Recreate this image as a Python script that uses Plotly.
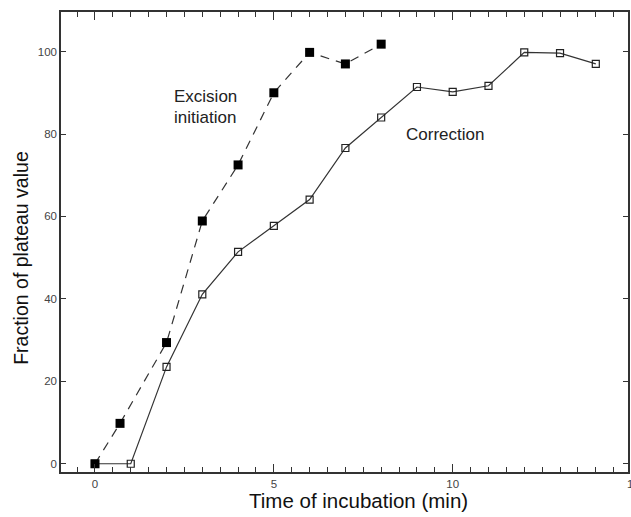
import plotly.graph_objects as go

exc_x = [0, 0.7, 2, 3, 4, 5, 6, 7, 8]
exc_y = [0, 9.8, 29.4, 58.9, 72.5, 90.0, 99.8, 97.0, 101.8]

cor_x = [0, 1, 2, 3, 4, 5, 6, 7, 8, 9, 10, 11, 12, 13, 14]
cor_y = [0, 0, 23.5, 41.1, 51.4, 57.7, 64.1, 76.6, 84.0, 91.4, 90.2, 91.7, 99.8, 99.6, 97.0]

x_ticks = [0, 5, 10, 15]
y_ticks = [0, 20, 40, 60, 80, 100]
x_range = [-0.95, 14.9]
y_range = [-2, 109.6]

FONT = "Liberation Sans, Arial, Helvetica"

fig = go.Figure()
fig.add_trace(go.Scatter(
    x=cor_x, y=cor_y, mode="lines+markers",
    line=dict(color="#333333", width=1.2),
    marker=dict(symbol="square-open", size=7, color="#222222", line=dict(width=1.2)),
    showlegend=False))
fig.add_trace(go.Scatter(
    x=exc_x, y=exc_y, mode="lines+markers",
    line=dict(color="#333333", width=1.2, dash="9px,7px"),
    marker=dict(symbol="square", size=9, color="#000000"),
    showlegend=False))

fig.add_annotation(x=2.15, y=89, text="Excision", showarrow=False, xanchor="left",
                   font=dict(size=17, color="#222222", family=FONT))
fig.add_annotation(x=2.15, y=83.9, text="initiation", showarrow=False, xanchor="left",
                   font=dict(size=17, color="#222222", family=FONT))
fig.add_annotation(x=9.78, y=79.8, text="Correction", showarrow=False,
                   font=dict(size=17, color="#222222", family=FONT))

# last x tick label (15) sits just past the plotted range, cut by the page edge
last_tick_paper = (x_ticks[-1] - x_range[0]) / (x_range[1] - x_range[0])
fig.add_annotation(x=last_tick_paper, xref="paper", xanchor="left", xshift=-6.5,
                   y=0, yref="paper", yanchor="top", yshift=-4,
                   text=str(x_ticks[-1]), showarrow=False,
                   font=dict(size=11.5, color="#444444", family=FONT))

# axis titles
fig.add_annotation(x=0.525, xref="paper", y=-0.061, yref="paper", yanchor="middle",
                   text="Time of incubation (min)", showarrow=False,
                   font=dict(size=20.5, color="#111111", family=FONT))
fig.add_annotation(x=-0.072, xref="paper", y=0.466, yref="paper", xanchor="center",
                   yanchor="middle", textangle=-90,
                   text="Fraction of plateau value", showarrow=False,
                   font=dict(size=19.5, color="#111111", family=FONT))

axis_common = dict(showline=True, linecolor="#333333", linewidth=1.5, mirror="ticks",
                   ticks="inside", tickcolor="#333333", showgrid=False,
                   zeroline=False, tickfont=dict(size=11.5, color="#444444", family=FONT))

fig.update_xaxes(range=x_range, tickvals=x_ticks, ticklen=8,
                 minor=dict(dtick=0.5, ticks="inside", ticklen=5, tickcolor="#333333"),
                 **axis_common)
fig.update_yaxes(range=y_range, tickvals=y_ticks, ticklen=5, **axis_common)

fig.update_layout(width=631, height=517, margin=dict(l=61, r=1, t=12, b=45),
                  plot_bgcolor="white", paper_bgcolor="white")
fig.write_html("out.html")
